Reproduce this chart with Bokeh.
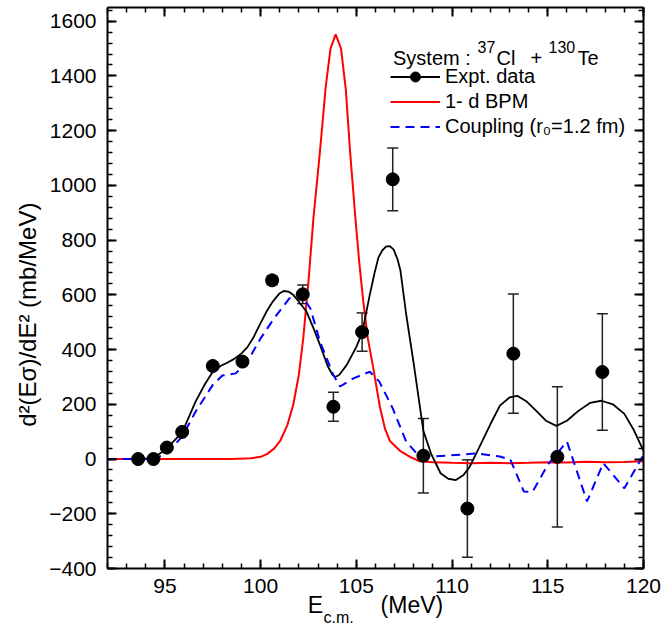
import math
from bokeh.plotting import figure
from bokeh.models import (Range1d, LinearAxis, SingleIntervalTicker, Whisker, TeeHead,
                          ColumnDataSource, Legend, LegendItem, Label, Title,
                          CustomJSTickFormatter)
from bokeh.embed import file_html
from bokeh.resources import INLINE

# ---------------- data ----------------
expt_energy = [93.6, 94.4, 95.1, 95.9, 97.5, 99.05, 100.6, 102.2, 103.8, 105.3,
               106.9, 108.5, 110.8, 113.2, 115.5, 117.85]
expt_value = [0, 0, 42, 99, 340, 356, 653, 602, 191, 464,
              1022, 12, -181, 385, 8, 318]
expt_error = [5, 5, 8, 10, 14, 14, 16, 34, 53, 70,
              115, 136, 178, 218, 256, 213]

fit_energy = [93.6, 94.4, 95.1, 95.9, 96.6, 97.1, 97.5, 97.9, 98.2, 98.6, 99.0, 99.3, 99.6,
              99.95, 100.3, 100.6, 100.8, 101.0, 101.2, 101.45, 101.7, 102.0, 102.4, 102.75,
              103.1, 103.5, 103.75, 103.9, 104.1, 104.5, 105.0, 105.3, 105.7, 105.95, 106.15,
              106.35, 106.55, 106.75, 106.95, 107.15, 107.3, 107.6, 108.0, 108.5, 108.9, 109.4,
              109.8, 110.2, 110.6, 110.9, 111.4, 112.0, 112.5, 113.0, 113.4, 113.9, 114.4,
              114.9, 115.45, 116.0, 116.6, 117.2, 117.8, 118.4, 119.0, 119.5, 120.0]
fit_value = [0, 3, 39, 97, 210, 275, 319, 340, 350, 365, 386, 408, 441,
             490, 538, 572, 590, 606, 614, 612, 600, 575, 538, 480,
             417, 340, 308, 300, 307, 344, 410, 460, 600, 680, 736,
             762, 776, 778, 765, 730, 690, 530, 347, 103, 20, -52,
             -72, -77, -58, -31, 40, 127, 195, 225, 231, 210, 176,
             140, 121, 140, 176, 205, 213, 200, 165, 105, 30]

bpm_energy = [92.0, 96.0, 98.5, 99.5, 100.0, 100.33, 100.7, 101.02, 101.4, 101.71, 102.0,
              102.23, 102.5, 102.76, 103.1, 103.4, 103.65, 103.92, 104.2, 104.45, 104.67,
              104.95, 105.15, 105.36, 105.6, 105.88, 106.23, 106.5, 106.75, 107.28, 107.8,
              108.3, 109.0, 110.0, 111.0, 112.0, 113.0, 114.0, 115.0, 116.0, 117.0, 118.0,
              119.0, 120.0]
bpm_value = [0, 0, 0, 3, 8, 18, 38, 66, 125, 200, 310,
             444, 650, 882, 1125, 1360, 1500, 1552, 1500, 1350, 1125,
             880, 720, 577, 440, 334, 190, 110, 66, 30, 8,
             -8, -12, -14, -15, -14, -15, -14, -12, -13, -10, -12,
             -11, -8]

coup_energy = [92.0, 94.4, 95.1, 95.9, 96.6, 97.5, 98.0, 98.7, 99.3, 100.0, 100.7, 101.5,
               102.05, 102.6, 103.1, 103.8, 104.15, 104.85, 105.7, 106.2, 106.9, 107.6,
               108.15, 108.9, 109.7, 111.3, 112.5, 113.05, 113.75, 114.2, 115.0, 116.0,
               117.05, 117.9, 119.0, 120.0]
coup_value = [0, 0, 21, 82, 173, 271, 305, 313, 356, 441, 514, 587,
              605, 550, 429, 307, 265, 295, 319, 283, 185, 64,
              21, 9, 12, 21, 9, -3, -119, -120, -21, 64,
              -155, -15, -107, 15]

x_tick_interval = 5
y_tick_interval = 200
legend_labels = ["Expt. data", "1- d BPM", "Coupling (r\u2080=1.2 fm)"]
y_title = "d\u00b2(E\u03c3)/dE\u00b2 (mb/MeV)"

FONT = "Liberation Sans"
W, H = 664, 639
FL, FR, FT, FB = 107, 643, 7, 568   # frame edges in page pixels
NB = "\u00a0"

p = figure(width=W, height=H, x_range=Range1d(92, 120), y_range=Range1d(-400, 1650),
           output_backend="svg", toolbar_location=None,
           min_border_left=FL, min_border_right=W - FR, min_border_top=FT,
           min_border_bottom=H - FB)
p.background_fill_color = "white"
p.border_fill_color = "white"
p.outline_line_color = None
p.xgrid.visible = False
p.ygrid.visible = False


def style_axis(ax, labels=True):
    ax.axis_line_width = 2
    ax.axis_line_color = "black"
    ax.major_tick_in = 9
    ax.major_tick_out = 0
    ax.minor_tick_in = 5
    ax.minor_tick_out = 0
    ax.major_tick_line_width = 2
    ax.minor_tick_line_width = 1.5
    ax.major_tick_line_color = "black"
    ax.minor_tick_line_color = "black"
    ax.major_label_text_font = FONT
    ax.major_label_text_color = "black"
    if labels:
        ax.major_label_text_font_size = "21px"
    else:
        ax.major_label_text_font_size = "0px"
        ax.major_label_standoff = 0
        ax.formatter = CustomJSTickFormatter(code="return ''")


p.xaxis.ticker = SingleIntervalTicker(interval=x_tick_interval, num_minor_ticks=5)
p.yaxis.ticker = SingleIntervalTicker(interval=y_tick_interval, num_minor_ticks=5)
for ax in p.xaxis + p.yaxis:
    style_axis(ax)
p.xaxis.major_label_standoff = 10
p.yaxis.major_label_standoff = 11

# y-axis title (non-breaking spaces push the visible text a little lower, as in the reference)
p.yaxis.axis_label = y_title + NB * 8
p.yaxis.axis_label_text_font = FONT
p.yaxis.axis_label_text_font_size = "24px"
p.yaxis.axis_label_text_font_style = "normal"
p.yaxis.axis_label_text_color = "black"
p.yaxis.axis_label_standoff = 5

# x-axis title: "E" and "(MeV)" on the axis, the subscript "c.m." as a title underneath
p.xaxis.axis_label = "E" + NB * 9 + "(MeV)"
p.xaxis.axis_label_text_font = FONT
p.xaxis.axis_label_text_font_size = "23px"
p.xaxis.axis_label_text_font_style = "normal"
p.xaxis.axis_label_text_color = "black"
p.xaxis.axis_label_standoff = -4

top_ax = LinearAxis(ticker=SingleIntervalTicker(interval=x_tick_interval, num_minor_ticks=5))
right_ax = LinearAxis(ticker=SingleIntervalTicker(interval=y_tick_interval, num_minor_ticks=5))
style_axis(top_ax, labels=False)
style_axis(right_ax, labels=False)
p.add_layout(top_ax, "above")
p.add_layout(right_ax, "right")

sub = Title(text="c.m.", align="left", offset=216, vertical_align="top", standoff=-24,
            text_font=FONT, text_font_size="16px", text_font_style="normal",
            text_color="black")
p.add_layout(sub, "below")

# ---------------- glyphs ----------------
bpm_r = p.line(bpm_energy, bpm_value, line_color="#ff0000", line_width=2)
fit_r = p.line(fit_energy, fit_value, line_color="black", line_width=1.8)
coup_r = p.line(coup_energy, coup_value, line_color="#0000ff", line_width=2, line_dash="9 6")

src = ColumnDataSource(dict(
    x=expt_energy, y=expt_value,
    lo=[v - e for v, e in zip(expt_value, expt_error)],
    hi=[v + e for v, e in zip(expt_value, expt_error)]))
wh = Whisker(source=src, base="x", lower="lo", upper="hi", line_color="#222222", line_width=1.5,
             lower_head=TeeHead(size=11, line_color="#222222", line_width=1.5),
             upper_head=TeeHead(size=11, line_color="#222222", line_width=1.5))
p.add_layout(wh)
pts_r = p.scatter("x", "y", source=src, size=13, fill_color="black", line_color="black")

legend = Legend(items=[LegendItem(label=legend_labels[0], renderers=[fit_r, pts_r]),
                       LegendItem(label=legend_labels[1], renderers=[bpm_r]),
                       LegendItem(label=legend_labels[2], renderers=[coup_r])],
                location=(390 - FL, FB - 139), orientation="vertical",
                glyph_width=50, glyph_height=25, label_height=25, label_standoff=5,
                spacing=0, padding=0, margin=0,
                label_text_font=FONT, label_text_font_size="20px", label_text_color="black",
                background_fill_alpha=0, border_line_color=None)
p.add_layout(legend, "center")


def lab(text, x, y, size):
    """Place text at page pixel (x, y) (baseline), expressed relative to the frame."""
    p.add_layout(Label(x=x - FL, y=FB - y, x_units="screen", y_units="screen", text=text,
                       text_font=FONT, text_font_size=size, text_color="black",
                       text_baseline="alphabetic", text_align="left"))


# legend title "System : 37Cl + 130Te"
lab("System :", 392.5, 57, "20px")
lab("37", 477, 46, "16px")
lab("Cl", 496, 57, "20px")
lab("+", 530, 57, "20px")
lab("130", 548, 46, "16px")
lab("Te", 577, 57, "20px")

open("out.html", "w").write(file_html(p, INLINE))
